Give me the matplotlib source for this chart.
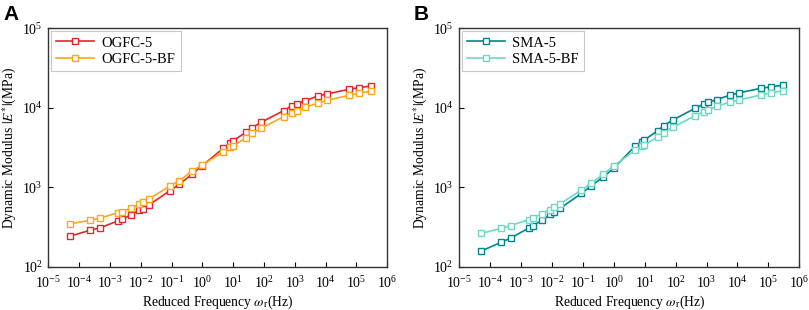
import numpy as np
import matplotlib.pyplot as plt

# reduced frequencies (Hz), shared by both panels
freq = [5e-5, 2.3e-4, 4.7e-4, 1.8e-3, 2.4e-3, 4.9e-3, 8.6e-3, 1.2e-2, 1.8e-2,
        0.089, 0.18, 0.46, 0.98, 4.8, 7.9, 9.7, 26, 41, 81,
        430, 810, 1150, 2100, 5600, 11000, 59000, 120000, 300000]

# panel A
ogfc5 = [244, 290, 310, 379, 398, 452, 518, 542, 598,
         912, 1097, 1465, 1880, 3105, 3654, 3840, 4935, 5636, 6590,
         9220, 10660, 11300, 12220, 14100, 14950, 17150, 17950, 18840]
ogfc5_bf = [348, 387, 410, 482, 497, 548, 615, 652, 711,
            1045, 1217, 1600, 1919, 2793, 3200, 3320, 4190, 4800, 5550,
            7750, 8710, 9060, 10180, 11430, 12450, 14390, 15250, 16300]

# panel B
sma5 = [158, 205, 232, 310, 332, 387, 457, 489, 544,
        840, 1038, 1361, 1735, 3283, 3750, 3940, 5160, 5970, 7050,
        9890, 11100, 11770, 12700, 14420, 15420, 17670, 18340, 19270]
sma5_bf = [264, 307, 332, 395, 414, 470, 528, 565, 621,
           924, 1122, 1469, 1853, 2924, 3283, 3380, 4335, 4875, 5700,
           7980, 8960, 9410, 10470, 11770, 12590, 14530, 15420, 16480]

plt.rcParams['font.family'] = ['Liberation Serif', 'DejaVu Serif']
plt.rcParams['mathtext.fontset'] = 'stix'

fig = plt.figure(figsize=(8.09, 3.10), dpi=100)
ax_a = fig.add_axes([0.0597, 0.1387, 0.419, 0.770])
ax_b = fig.add_axes([0.5677, 0.1387, 0.4203, 0.770])

panels = [
    (ax_a, 'A', [('OGFC-5', ogfc5, '#E0282E'), ('OGFC-5-BF', ogfc5_bf, '#FFA61A')]),
    (ax_b, 'B', [('SMA-5', sma5, '#00868C'), ('SMA-5-BF', sma5_bf, '#6ED9C3')]),
]

for ax, tag, series in panels:
    for name, vals, col in series:
        ax.plot(freq, vals, color=col, lw=1.2, marker='s', ms=4.2,
                mfc='white', mec=col, mew=1.0, label=name)
    ax.set_xscale('log')
    ax.set_yscale('log')
    ax.set_xlim(1e-5, 1e6)
    ax.set_ylim(1e2, 1e5)
    ax.set_xticks([10.0**k for k in range(-5, 7)])
    ax.set_yticks([1e2, 1e3, 1e4, 1e5])
    ax.minorticks_off()
    ax.tick_params(direction='in', length=3.5, width=0.8, labelsize=10)
    ax.tick_params(axis='x', pad=6)
    ax.tick_params(axis='y', pad=4)
    for s in ax.spines.values():
        s.set_linewidth(1.0)
        s.set_color('#333333')
    ax.set_xlabel(r'Reduced Frequency $\omega_{\mathrm{r}}$(Hz)', fontsize=9.8, labelpad=2)
    ax.set_ylabel(r'Dynamic Modulus $|E^{*}|$(MPa)', fontsize=9.8, labelpad=2)
    leg = ax.legend(loc='upper left', fontsize=10.5, frameon=True, fancybox=False,
                    handlelength=2.6, handletextpad=0.5, borderpad=0.35,
                    labelspacing=0.25, borderaxespad=0.2)
    leg.get_frame().set_edgecolor('#bbbbbb')
    leg.get_frame().set_linewidth(0.8)
    fig.text(ax.get_position().x0 - 0.056, 0.935, tag, fontsize=15, fontweight='bold',
             family='Liberation Sans')

fig.savefig('out.png', dpi=100)
